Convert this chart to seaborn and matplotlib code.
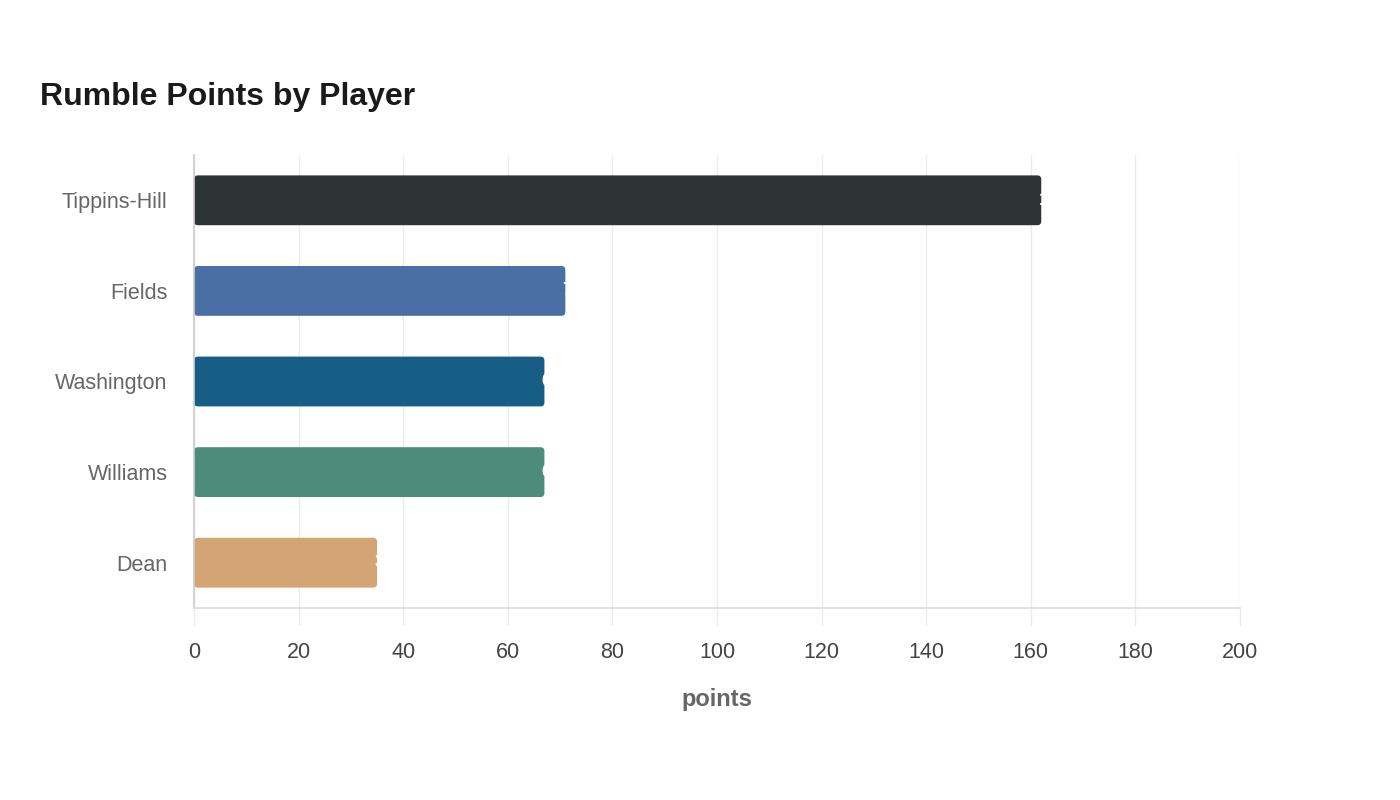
import matplotlib
matplotlib.use('Agg')
import matplotlib.pyplot as plt
from matplotlib.patches import FancyBboxPatch
import seaborn as sns
import pandas as pd

players = ['Tippins-Hill', 'Fields', 'Washington', 'Williams', 'Dean']
points = [162, 71, 67, 67, 35]
colors = ['#2d3436', '#4a6fa5', '#175e86', '#4e8c7a', '#d4a574']

df = pd.DataFrame({'player': players, 'points': points})

sns.set_theme(style='white')
plt.rcParams['font.family'] = ['Liberation Sans', 'DejaVu Sans']

fig = plt.figure(figsize=(14, 8), dpi=100)
ax = fig.add_axes([0.1386, 0.24, 0.7471, 0.56625])

sns.barplot(data=df, x='points', y='player', hue='player', palette=colors,
            legend=False, width=0.55, saturation=1, ax=ax)

# swap plain rectangles for rounded ones
x_per_px = 200 / 1046
y_per_px = 5 / 453
for p in list(ax.patches):
    x0, y0 = p.get_x(), p.get_y()
    w, h = p.get_width(), p.get_height()
    fc = p.get_facecolor()
    p.remove()
    ax.add_patch(FancyBboxPatch((x0, y0), w, h,
                                boxstyle=f'round,pad=0,rounding_size={4 * x_per_px}',
                                mutation_aspect=y_per_px / x_per_px,
                                facecolor=fc, edgecolor='none', zorder=2))

# white value labels, sitting at the bar ends
for i, v in enumerate(points):
    ax.annotate(str(v), (v, i), xytext=(-2, 0), textcoords='offset points',
                ha='left', va='center', color='white', fontsize=13,
                fontweight='bold', zorder=3)

ax.set_xlim(0, 200)
ax.set_ylim(4.5, -0.5)
ax.set_xticks(range(0, 201, 20))
ax.grid(axis='x', color='#ebebeb', linewidth=1, zorder=0)
ax.set_axisbelow(True)

for s in ['top', 'right']:
    ax.spines[s].set_visible(False)
ax.spines['left'].set_color('#cccccc')
ax.spines['bottom'].set_color('#dddddd')

ax.tick_params(axis='x', bottom=True, length=12, width=1, color='#ebebeb',
               labelsize=15.5, labelcolor='#444444', pad=12.5)
ax.tick_params(axis='y', left=False, length=0, labelsize=15.5,
               labelcolor='#666666', pad=19)

ax.set_ylabel('')
ax.set_xlabel('points', fontsize=17, fontweight='bold', color='#666666',
              labelpad=18)

fig.text(40 / 1400, 1 - 97 / 800, 'Rumble Points by Player', fontsize=23,
         fontweight='bold', color='#1a1a1a', va='center', ha='left')

plt.savefig('out.png', dpi=100)
plt.close()
